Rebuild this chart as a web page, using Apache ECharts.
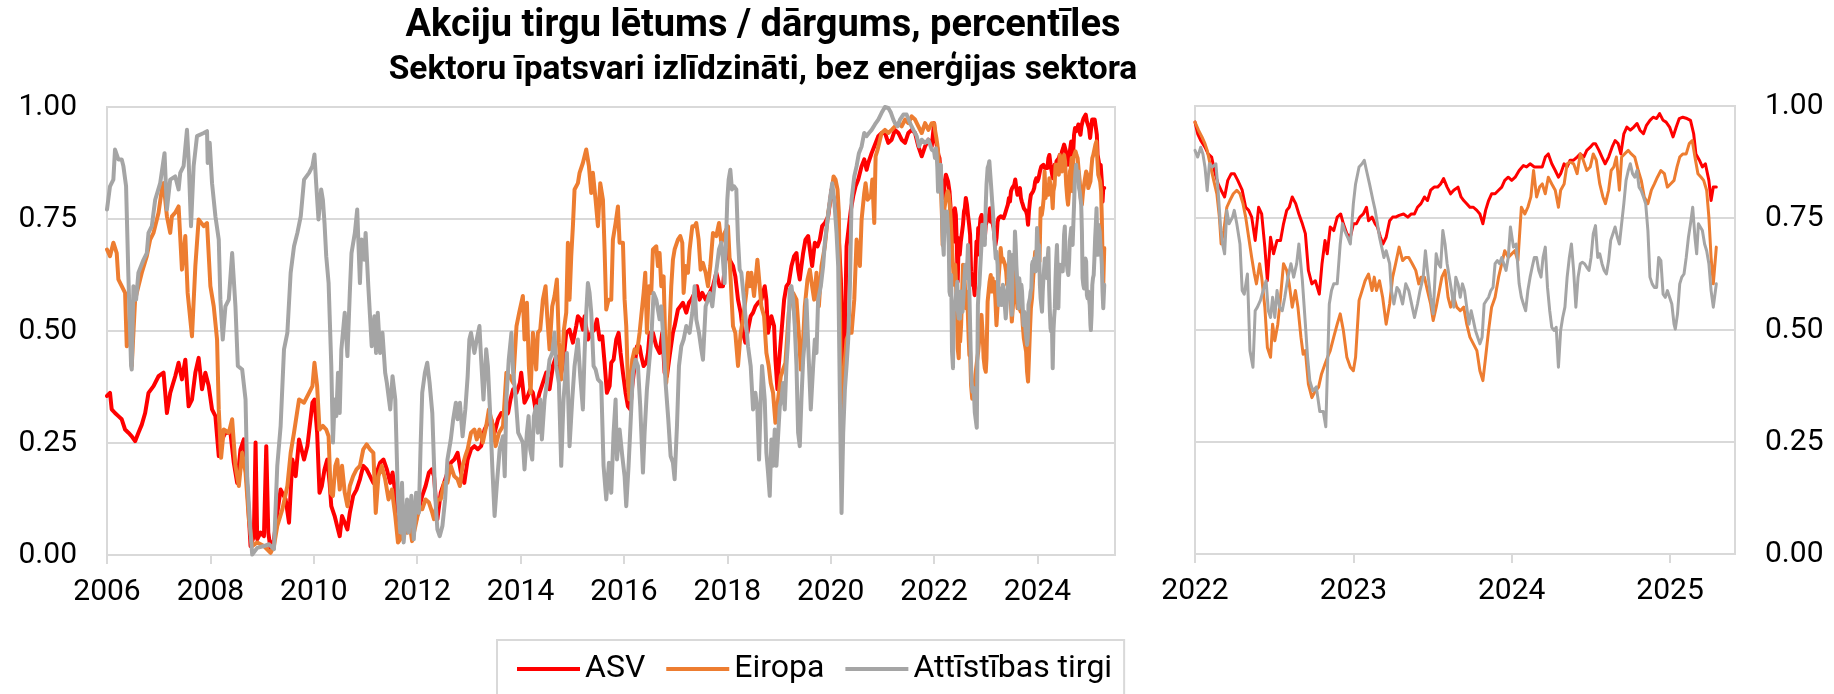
<!DOCTYPE html>
<html><head><meta charset="utf-8">
<script src="https://cdn.jsdelivr.net/npm/echarts@6/dist/echarts.min.js"></script>
<style>html,body{margin:0;padding:0;background:#fff}#c{width:1834px;height:694px}</style>
</head><body><div id="c"></div>
<script>
// ---------- Data: [date as decimal year, percentile] ----------
const seriesNames = ['ASV', 'Eiropa', 'Attīstības tirgi'];
const leftYearTicks = [2006, 2008, 2010, 2012, 2014, 2016, 2018, 2020, 2022, 2024];
const rightYearTicks = [2022, 2023, 2024, 2025];
const yTicks = [0, 0.25, 0.5, 0.75, 1];

// ASV
const asv2006 = [[2006.000,0.355],[2006.058,0.362],[2006.091,0.325],[2006.155,0.317],[2006.220,0.310],[2006.285,0.303],[2006.350,0.280],[2006.414,0.273],[2006.479,0.265],[2006.544,0.254],[2006.608,0.273],[2006.673,0.291],[2006.738,0.317],[2006.803,0.362],[2006.900,0.377],[2006.997,0.399],[2007.094,0.407],[2007.159,0.317],[2007.223,0.362],[2007.320,0.399],[2007.385,0.429],[2007.450,0.392],[2007.515,0.436],[2007.579,0.332],[2007.644,0.347],[2007.709,0.407],[2007.773,0.440],[2007.838,0.370],[2007.903,0.407],[2007.968,0.377],[2008.032,0.325],[2008.097,0.310],[2008.162,0.221],[2008.227,0.258],[2008.291,0.273],[2008.388,0.273],[2008.453,0.206],[2008.518,0.161],[2008.583,0.236],[2008.647,0.258],[2008.712,0.154],[2008.777,0.020],[2008.841,0.042],[2008.874,0.251],[2008.906,0.035],[2008.971,0.050],[2009.036,0.042],[2009.081,0.243],[2009.120,0.050],[2009.165,0.013],[2009.230,0.035],[2009.294,0.094],[2009.359,0.146],[2009.456,0.124],[2009.521,0.072],[2009.586,0.213],[2009.650,0.176],[2009.715,0.258],[2009.812,0.213],[2009.877,0.243],[2009.974,0.340]];
const asv2010 = [[2010.013,0.347],[2010.065,0.273],[2010.111,0.139],[2010.156,0.154],[2010.208,0.191],[2010.261,0.213],[2010.306,0.161],[2010.339,0.109],[2010.404,0.087],[2010.469,0.057],[2010.502,0.042],[2010.547,0.087],[2010.599,0.072],[2010.651,0.057],[2010.697,0.094],[2010.762,0.132],[2010.827,0.146],[2010.893,0.169],[2010.958,0.199],[2011.023,0.191],[2011.088,0.176],[2011.153,0.161],[2011.218,0.184],[2011.283,0.206],[2011.349,0.213],[2011.414,0.191],[2011.479,0.161],[2011.524,0.184],[2011.577,0.139],[2011.642,0.050],[2011.707,0.042],[2011.772,0.057],[2011.837,0.065],[2011.889,0.050],[2011.967,0.072],[2012.033,0.102],[2012.098,0.132],[2012.163,0.154],[2012.228,0.184],[2012.280,0.191],[2012.326,0.176],[2012.391,0.080],[2012.456,0.139],[2012.521,0.161],[2012.586,0.184],[2012.651,0.206],[2012.717,0.213],[2012.782,0.228],[2012.847,0.184],[2012.912,0.161],[2012.977,0.213],[2013.042,0.236],[2013.107,0.243],[2013.173,0.236],[2013.238,0.243],[2013.303,0.280],[2013.368,0.295],[2013.433,0.303],[2013.498,0.273],[2013.564,0.303],[2013.629,0.317],[2013.694,0.310],[2013.759,0.317],[2013.805,0.347],[2013.857,0.370],[2013.922,0.362],[2013.987,0.384]];
const asv2014 = [[2014.013,0.407],[2014.077,0.340],[2014.142,0.355],[2014.187,0.370],[2014.239,0.362],[2014.290,0.325],[2014.368,0.362],[2014.432,0.384],[2014.497,0.407],[2014.561,0.370],[2014.626,0.422],[2014.690,0.444],[2014.755,0.392],[2014.819,0.422],[2014.884,0.496],[2014.948,0.503],[2015.013,0.474],[2015.077,0.511],[2015.110,0.533],[2015.161,0.526],[2015.206,0.503],[2015.239,0.533],[2015.303,0.481],[2015.368,0.496],[2015.432,0.503],[2015.477,0.526],[2015.529,0.481],[2015.581,0.488],[2015.626,0.429],[2015.671,0.362],[2015.723,0.377],[2015.755,0.429],[2015.800,0.436],[2015.852,0.481],[2015.897,0.496],[2015.935,0.451],[2015.981,0.407],[2016.032,0.362],[2016.077,0.332],[2016.123,0.325],[2016.161,0.377],[2016.206,0.422],[2016.252,0.466],[2016.303,0.466],[2016.335,0.444],[2016.381,0.422],[2016.432,0.429],[2016.465,0.451],[2016.497,0.496],[2016.561,0.496],[2016.626,0.466],[2016.690,0.451],[2016.742,0.496],[2016.787,0.407],[2016.832,0.399],[2016.884,0.444],[2016.948,0.496],[2016.981,0.511],[2017.045,0.548],[2017.090,0.555],[2017.142,0.563],[2017.206,0.541],[2017.258,0.563],[2017.303,0.570],[2017.368,0.585],[2017.413,0.600],[2017.465,0.570],[2017.516,0.585],[2017.581,0.570],[2017.658,0.585],[2017.723,0.600],[2017.787,0.630],[2017.852,0.600],[2017.916,0.600]];
const asv2018 = [[2017.981,0.682],[2018.045,0.659],[2018.110,0.645],[2018.155,0.622],[2018.207,0.570],[2018.258,0.541],[2018.304,0.496],[2018.349,0.474],[2018.401,0.503],[2018.452,0.533],[2018.498,0.541],[2018.543,0.555],[2018.595,0.563],[2018.659,0.570],[2018.724,0.600],[2018.756,0.570],[2018.788,0.496],[2018.821,0.518],[2018.853,0.533],[2018.905,0.511],[2018.931,0.436],[2018.969,0.370],[2018.995,0.422],[2019.047,0.496],[2019.099,0.570],[2019.144,0.600],[2019.189,0.607],[2019.241,0.645],[2019.292,0.667],[2019.338,0.674],[2019.370,0.637],[2019.402,0.615],[2019.434,0.645],[2019.467,0.674],[2019.512,0.704],[2019.564,0.712],[2019.615,0.667],[2019.641,0.645],[2019.693,0.697],[2019.745,0.689],[2019.790,0.704],[2019.835,0.734],[2019.887,0.741],[2019.952,0.756],[2020.016,0.816],[2020.068,0.793],[2020.113,0.764],[2020.158,0.704],[2020.197,0.615],[2020.223,0.496],[2020.242,0.347],[2020.275,0.496],[2020.307,0.689],[2020.352,0.734],[2020.391,0.771],[2020.436,0.801],[2020.481,0.823],[2020.533,0.838],[2020.598,0.868],[2020.649,0.883],[2020.695,0.860],[2020.727,0.875],[2020.792,0.897],[2020.843,0.912],[2020.921,0.935],[2020.985,0.942],[2021.050,0.942],[2021.114,0.920],[2021.179,0.927],[2021.244,0.949],[2021.309,0.942],[2021.373,0.927],[2021.438,0.920],[2021.502,0.942],[2021.567,0.949],[2021.632,0.942],[2021.696,0.912],[2021.761,0.890],[2021.826,0.912],[2021.890,0.927],[2021.955,0.912]];
const asv2022 = [[2022.000,0.964],[2022.017,0.938],[2022.036,0.923],[2022.063,0.908],[2022.083,0.893],[2022.105,0.886],[2022.127,0.849],[2022.146,0.826],[2022.165,0.812],[2022.187,0.797],[2022.207,0.834],[2022.229,0.849],[2022.248,0.849],[2022.270,0.834],[2022.298,0.812],[2022.320,0.774],[2022.339,0.767],[2022.358,0.752],[2022.380,0.700],[2022.402,0.774],[2022.421,0.759],[2022.441,0.685],[2022.457,0.610],[2022.477,0.707],[2022.496,0.670],[2022.518,0.700],[2022.540,0.700],[2022.559,0.737],[2022.579,0.767],[2022.595,0.774],[2022.614,0.797],[2022.636,0.782],[2022.656,0.759],[2022.678,0.737],[2022.697,0.715],[2022.716,0.633],[2022.738,0.603],[2022.760,0.610],[2022.785,0.580],[2022.802,0.648],[2022.821,0.700],[2022.835,0.670],[2022.854,0.730],[2022.876,0.722],[2022.898,0.752],[2022.920,0.759],[2022.937,0.737],[2022.959,0.715],[2022.981,0.707],[2023.000,0.737],[2023.019,0.737],[2023.041,0.752],[2023.063,0.759],[2023.083,0.774],[2023.096,0.744],[2023.118,0.752],[2023.138,0.737],[2023.152,0.730],[2023.171,0.707],[2023.187,0.692],[2023.207,0.707],[2023.229,0.744],[2023.248,0.752],[2023.267,0.752],[2023.289,0.756],[2023.317,0.759],[2023.344,0.752],[2023.366,0.759],[2023.386,0.759],[2023.405,0.774],[2023.427,0.782],[2023.449,0.797],[2023.468,0.789],[2023.488,0.812],[2023.510,0.819],[2023.532,0.819],[2023.551,0.826],[2023.570,0.838],[2023.592,0.819],[2023.614,0.804],[2023.634,0.812],[2023.661,0.819],[2023.680,0.797],[2023.697,0.789],[2023.716,0.782],[2023.736,0.774],[2023.758,0.774],[2023.780,0.767],[2023.799,0.759],[2023.818,0.737],[2023.835,0.767],[2023.854,0.789],[2023.873,0.804],[2023.895,0.804],[2023.917,0.812],[2023.937,0.819],[2023.956,0.834],[2023.978,0.841],[2024.000,0.834],[2024.022,0.841],[2024.047,0.856],[2024.074,0.867],[2024.094,0.864],[2024.116,0.871],[2024.143,0.864],[2024.171,0.864],[2024.193,0.864],[2024.212,0.886],[2024.231,0.893],[2024.253,0.871],[2024.275,0.856],[2024.295,0.841],[2024.309,0.849],[2024.331,0.871],[2024.350,0.864],[2024.369,0.879],[2024.391,0.879],[2024.413,0.886],[2024.433,0.893],[2024.455,0.886],[2024.474,0.901],[2024.496,0.908],[2024.515,0.916],[2024.529,0.916],[2024.551,0.901],[2024.570,0.886],[2024.590,0.871],[2024.612,0.886],[2024.634,0.908],[2024.653,0.923],[2024.672,0.916],[2024.689,0.893],[2024.708,0.938],[2024.727,0.953],[2024.749,0.946],[2024.771,0.953],[2024.791,0.961],[2024.810,0.946],[2024.832,0.938],[2024.851,0.957],[2024.873,0.968],[2024.893,0.975],[2024.915,0.972],[2024.934,0.983],[2024.956,0.968],[2024.975,0.964],[2024.997,0.953],[2025.019,0.931],[2025.039,0.953],[2025.058,0.972],[2025.080,0.975],[2025.107,0.972],[2025.129,0.968],[2025.149,0.938],[2025.163,0.893],[2025.185,0.879],[2025.204,0.864],[2025.223,0.871],[2025.245,0.834],[2025.259,0.789],[2025.273,0.819],[2025.292,0.819]];

// Eiropa
const eur2006 = [[2006.000,0.682],[2006.058,0.667],[2006.123,0.697],[2006.188,0.674],[2006.220,0.615],[2006.285,0.600],[2006.350,0.585],[2006.382,0.466],[2006.447,0.503],[2006.479,0.422],[2006.511,0.496],[2006.544,0.570],[2006.608,0.600],[2006.673,0.630],[2006.770,0.667],[2006.835,0.704],[2006.900,0.719],[2006.997,0.764],[2007.061,0.816],[2007.094,0.830],[2007.159,0.756],[2007.223,0.719],[2007.256,0.756],[2007.320,0.764],[2007.385,0.778],[2007.450,0.637],[2007.515,0.712],[2007.560,0.585],[2007.644,0.488],[2007.709,0.645],[2007.773,0.749],[2007.871,0.734],[2007.935,0.741],[2008.000,0.600],[2008.065,0.555],[2008.129,0.481],[2008.162,0.325],[2008.207,0.217],[2008.259,0.280],[2008.356,0.273],[2008.421,0.303],[2008.485,0.199],[2008.550,0.154],[2008.615,0.228],[2008.680,0.184],[2008.744,0.080],[2008.809,0.020],[2008.906,0.028],[2009.036,0.020],[2009.165,0.005],[2009.230,0.020],[2009.294,0.065],[2009.392,0.102],[2009.489,0.154],[2009.553,0.228],[2009.618,0.273],[2009.715,0.347],[2009.812,0.340],[2009.909,0.362],[2009.974,0.377]];
const eur2010 = [[2010.013,0.429],[2010.065,0.377],[2010.111,0.280],[2010.176,0.288],[2010.241,0.280],[2010.287,0.265],[2010.326,0.139],[2010.371,0.132],[2010.417,0.199],[2010.456,0.213],[2010.502,0.146],[2010.547,0.199],[2010.599,0.139],[2010.651,0.109],[2010.697,0.154],[2010.762,0.176],[2010.827,0.191],[2010.893,0.199],[2010.958,0.236],[2011.023,0.247],[2011.088,0.236],[2011.153,0.228],[2011.199,0.094],[2011.251,0.176],[2011.316,0.199],[2011.381,0.169],[2011.446,0.124],[2011.511,0.146],[2011.577,0.087],[2011.629,0.028],[2011.674,0.035],[2011.739,0.065],[2011.805,0.050],[2011.870,0.057],[2011.902,0.031],[2011.967,0.065],[2012.033,0.102],[2012.098,0.102],[2012.163,0.124],[2012.228,0.117],[2012.293,0.094],[2012.326,0.080],[2012.391,0.124],[2012.456,0.124],[2012.521,0.161],[2012.586,0.161],[2012.651,0.199],[2012.717,0.176],[2012.782,0.169],[2012.827,0.154],[2012.879,0.199],[2012.932,0.221],[2012.977,0.236],[2013.042,0.273],[2013.107,0.280],[2013.153,0.258],[2013.205,0.280],[2013.270,0.251],[2013.336,0.288],[2013.388,0.325],[2013.466,0.288],[2013.518,0.243],[2013.583,0.273],[2013.661,0.288],[2013.726,0.407],[2013.792,0.399],[2013.857,0.384],[2013.922,0.511],[2013.974,0.541]];
const eur2014 = [[2014.045,0.578],[2014.077,0.481],[2014.123,0.563],[2014.161,0.422],[2014.194,0.362],[2014.239,0.496],[2014.271,0.459],[2014.303,0.414],[2014.335,0.496],[2014.381,0.503],[2014.432,0.570],[2014.484,0.600],[2014.516,0.533],[2014.561,0.459],[2014.613,0.555],[2014.658,0.578],[2014.703,0.615],[2014.742,0.474],[2014.787,0.392],[2014.839,0.503],[2014.884,0.541],[2014.916,0.697],[2014.948,0.570],[2014.981,0.667],[2015.013,0.734],[2015.045,0.816],[2015.110,0.830],[2015.142,0.853],[2015.206,0.875],[2015.271,0.905],[2015.323,0.868],[2015.368,0.808],[2015.400,0.853],[2015.452,0.793],[2015.497,0.734],[2015.542,0.830],[2015.594,0.793],[2015.626,0.682],[2015.658,0.548],[2015.703,0.570],[2015.755,0.570],[2015.787,0.704],[2015.839,0.741],[2015.884,0.778],[2015.916,0.697],[2015.981,0.697],[2016.013,0.570],[2016.045,0.511],[2016.077,0.384],[2016.110,0.347],[2016.161,0.436],[2016.206,0.459],[2016.252,0.451],[2016.303,0.496],[2016.335,0.533],[2016.381,0.585],[2016.413,0.630],[2016.445,0.496],[2016.484,0.600],[2016.529,0.585],[2016.561,0.682],[2016.626,0.689],[2016.658,0.645],[2016.690,0.674],[2016.723,0.600],[2016.768,0.622],[2016.819,0.384],[2016.871,0.474],[2016.916,0.600],[2016.948,0.659],[2016.981,0.682],[2017.045,0.704],[2017.090,0.712],[2017.129,0.697],[2017.155,0.585],[2017.194,0.645],[2017.239,0.630],[2017.271,0.682],[2017.323,0.734],[2017.368,0.734],[2017.400,0.741],[2017.445,0.704],[2017.484,0.637],[2017.529,0.652],[2017.581,0.630],[2017.626,0.600],[2017.671,0.645],[2017.723,0.719],[2017.787,0.712],[2017.839,0.741],[2017.884,0.697],[2017.948,0.719]];
const eur2018 = [[2018.013,0.734],[2018.065,0.615],[2018.110,0.511],[2018.155,0.496],[2018.207,0.422],[2018.258,0.496],[2018.304,0.526],[2018.368,0.585],[2018.401,0.630],[2018.433,0.600],[2018.465,0.630],[2018.517,0.578],[2018.582,0.659],[2018.627,0.600],[2018.659,0.555],[2018.711,0.533],[2018.756,0.451],[2018.801,0.422],[2018.840,0.384],[2018.885,0.362],[2018.931,0.295],[2018.982,0.347],[2019.034,0.399],[2019.079,0.414],[2019.124,0.429],[2019.163,0.496],[2019.189,0.541],[2019.228,0.570],[2019.273,0.585],[2019.338,0.570],[2019.383,0.496],[2019.422,0.414],[2019.467,0.481],[2019.499,0.555],[2019.551,0.615],[2019.596,0.637],[2019.641,0.600],[2019.680,0.570],[2019.725,0.630],[2019.771,0.555],[2019.822,0.645],[2019.887,0.689],[2019.952,0.764],[2020.016,0.808],[2020.055,0.845],[2020.094,0.838],[2020.132,0.816],[2020.158,0.764],[2020.184,0.496],[2020.210,0.199],[2020.236,0.347],[2020.275,0.436],[2020.307,0.481],[2020.352,0.496],[2020.404,0.496],[2020.456,0.570],[2020.501,0.704],[2020.533,0.667],[2020.565,0.645],[2020.598,0.749],[2020.649,0.808],[2020.675,0.830],[2020.714,0.793],[2020.740,0.793],[2020.779,0.801],[2020.805,0.838],[2020.843,0.741],[2020.869,0.890],[2020.908,0.905],[2020.953,0.927],[2020.985,0.942],[2021.050,0.949],[2021.114,0.942],[2021.179,0.949],[2021.244,0.957],[2021.309,0.964],[2021.373,0.957],[2021.438,0.972],[2021.502,0.964],[2021.567,0.979],[2021.632,0.972],[2021.696,0.957],[2021.761,0.942],[2021.826,0.964],[2021.890,0.949],[2021.955,0.964]];
const eur2022 = [[2022.000,0.964],[2022.022,0.946],[2022.044,0.931],[2022.063,0.916],[2022.077,0.901],[2022.099,0.864],[2022.118,0.834],[2022.138,0.804],[2022.154,0.752],[2022.165,0.692],[2022.182,0.722],[2022.201,0.774],[2022.220,0.789],[2022.242,0.804],[2022.264,0.812],[2022.284,0.804],[2022.303,0.782],[2022.320,0.752],[2022.339,0.707],[2022.358,0.662],[2022.375,0.625],[2022.388,0.603],[2022.408,0.648],[2022.421,0.618],[2022.441,0.551],[2022.457,0.461],[2022.477,0.439],[2022.490,0.513],[2022.504,0.476],[2022.523,0.513],[2022.540,0.573],[2022.559,0.648],[2022.579,0.633],[2022.595,0.603],[2022.614,0.551],[2022.634,0.588],[2022.650,0.551],[2022.669,0.484],[2022.683,0.446],[2022.697,0.454],[2022.716,0.379],[2022.738,0.349],[2022.760,0.364],[2022.780,0.372],[2022.799,0.402],[2022.821,0.424],[2022.837,0.439],[2022.854,0.454],[2022.876,0.484],[2022.898,0.513],[2022.917,0.536],[2022.937,0.499],[2022.959,0.439],[2022.981,0.417],[2023.000,0.409],[2023.014,0.439],[2023.036,0.566],[2023.055,0.588],[2023.074,0.610],[2023.096,0.625],[2023.118,0.588],[2023.132,0.618],[2023.146,0.588],[2023.165,0.610],[2023.185,0.573],[2023.207,0.513],[2023.229,0.558],[2023.248,0.618],[2023.267,0.648],[2023.289,0.685],[2023.311,0.655],[2023.331,0.662],[2023.350,0.662],[2023.372,0.648],[2023.394,0.633],[2023.413,0.603],[2023.427,0.618],[2023.449,0.618],[2023.468,0.588],[2023.488,0.558],[2023.504,0.521],[2023.523,0.551],[2023.543,0.588],[2023.559,0.618],[2023.579,0.633],[2023.598,0.573],[2023.614,0.551],[2023.634,0.573],[2023.653,0.551],[2023.675,0.543],[2023.697,0.551],[2023.716,0.513],[2023.736,0.484],[2023.758,0.469],[2023.780,0.454],[2023.799,0.409],[2023.818,0.387],[2023.835,0.439],[2023.854,0.499],[2023.873,0.551],[2023.895,0.573],[2023.917,0.618],[2023.937,0.648],[2023.956,0.677],[2023.978,0.662],[2024.000,0.670],[2024.019,0.677],[2024.039,0.655],[2024.061,0.774],[2024.083,0.759],[2024.102,0.774],[2024.121,0.797],[2024.138,0.856],[2024.157,0.797],[2024.176,0.819],[2024.193,0.826],[2024.212,0.804],[2024.231,0.841],[2024.253,0.826],[2024.275,0.812],[2024.295,0.774],[2024.309,0.812],[2024.331,0.826],[2024.350,0.871],[2024.369,0.875],[2024.391,0.871],[2024.413,0.849],[2024.433,0.893],[2024.452,0.879],[2024.474,0.856],[2024.496,0.864],[2024.515,0.893],[2024.534,0.879],[2024.556,0.826],[2024.576,0.797],[2024.592,0.782],[2024.612,0.812],[2024.628,0.856],[2024.645,0.864],[2024.661,0.886],[2024.680,0.812],[2024.694,0.886],[2024.713,0.893],[2024.736,0.901],[2024.755,0.893],[2024.777,0.886],[2024.799,0.856],[2024.818,0.834],[2024.837,0.797],[2024.860,0.782],[2024.882,0.812],[2024.901,0.826],[2024.920,0.841],[2024.942,0.856],[2024.964,0.849],[2024.983,0.819],[2025.003,0.826],[2025.025,0.834],[2025.044,0.864],[2025.061,0.886],[2025.080,0.893],[2025.102,0.893],[2025.121,0.916],[2025.140,0.923],[2025.157,0.886],[2025.176,0.849],[2025.196,0.841],[2025.212,0.834],[2025.231,0.812],[2025.245,0.752],[2025.259,0.662],[2025.273,0.603],[2025.292,0.685]];

// Attīstības tirgi
const em2006 = [[2006.000,0.771],[2006.058,0.823],[2006.123,0.838],[2006.155,0.905],[2006.220,0.883],[2006.285,0.883],[2006.317,0.868],[2006.369,0.823],[2006.414,0.622],[2006.466,0.422],[2006.479,0.414],[2006.511,0.600],[2006.563,0.570],[2006.608,0.630],[2006.706,0.659],[2006.770,0.674],[2006.803,0.719],[2006.867,0.734],[2006.932,0.793],[2007.029,0.830],[2007.113,0.897],[2007.159,0.771],[2007.223,0.838],[2007.320,0.845],[2007.385,0.816],[2007.417,0.853],[2007.482,0.868],[2007.547,0.949],[2007.579,0.883],[2007.625,0.734],[2007.676,0.868],[2007.741,0.935],[2007.871,0.942],[2007.935,0.946],[2007.948,0.875],[2007.987,0.920],[2008.032,0.830],[2008.097,0.756],[2008.162,0.704],[2008.194,0.570],[2008.239,0.481],[2008.291,0.555],[2008.356,0.570],[2008.421,0.674],[2008.485,0.555],[2008.531,0.422],[2008.615,0.414],[2008.680,0.347],[2008.712,0.176],[2008.777,0.050],[2008.809,0.001],[2008.906,0.016],[2009.036,0.020],[2009.133,0.024],[2009.230,0.013],[2009.294,0.199],[2009.359,0.288],[2009.424,0.459],[2009.489,0.496],[2009.553,0.630],[2009.618,0.689],[2009.683,0.719],[2009.748,0.756],[2009.812,0.838],[2009.909,0.853],[2009.974,0.868]];
const em2010 = [[2010.013,0.894],[2010.046,0.830],[2010.091,0.749],[2010.143,0.816],[2010.176,0.793],[2010.208,0.741],[2010.241,0.667],[2010.287,0.607],[2010.339,0.422],[2010.371,0.251],[2010.404,0.347],[2010.436,0.310],[2010.469,0.407],[2010.502,0.317],[2010.534,0.459],[2010.599,0.541],[2010.651,0.444],[2010.697,0.585],[2010.730,0.674],[2010.795,0.719],[2010.840,0.771],[2010.893,0.607],[2010.925,0.704],[2010.977,0.659],[2011.003,0.719],[2011.055,0.600],[2011.088,0.533],[2011.121,0.466],[2011.173,0.533],[2011.205,0.451],[2011.238,0.541],[2011.283,0.451],[2011.329,0.496],[2011.381,0.407],[2011.414,0.384],[2011.479,0.325],[2011.524,0.399],[2011.577,0.347],[2011.629,0.124],[2011.674,0.050],[2011.707,0.161],[2011.739,0.028],[2011.805,0.124],[2011.837,0.050],[2011.889,0.132],[2011.935,0.035],[2011.980,0.139],[2012.033,0.094],[2012.065,0.236],[2012.098,0.362],[2012.150,0.407],[2012.195,0.429],[2012.241,0.384],[2012.293,0.317],[2012.345,0.139],[2012.391,0.057],[2012.436,0.042],[2012.489,0.065],[2012.541,0.124],[2012.586,0.213],[2012.651,0.258],[2012.697,0.303],[2012.749,0.340],[2012.782,0.303],[2012.827,0.340],[2012.879,0.265],[2012.932,0.325],[2012.977,0.399],[2013.010,0.481],[2013.042,0.496],[2013.107,0.451],[2013.153,0.481],[2013.205,0.511],[2013.238,0.436],[2013.283,0.347],[2013.336,0.459],[2013.368,0.422],[2013.414,0.310],[2013.453,0.199],[2013.498,0.087],[2013.544,0.161],[2013.596,0.236],[2013.661,0.265],[2013.694,0.176],[2013.726,0.347],[2013.772,0.436],[2013.824,0.496],[2013.857,0.407],[2013.909,0.347],[2013.954,0.273]];
const em2014 = [[2014.045,0.251],[2014.077,0.191],[2014.123,0.273],[2014.155,0.310],[2014.187,0.236],[2014.226,0.213],[2014.258,0.310],[2014.303,0.332],[2014.335,0.273],[2014.381,0.347],[2014.413,0.258],[2014.465,0.347],[2014.510,0.384],[2014.561,0.436],[2014.613,0.451],[2014.658,0.496],[2014.690,0.422],[2014.742,0.384],[2014.787,0.199],[2014.832,0.347],[2014.871,0.407],[2014.897,0.451],[2014.948,0.243],[2015.000,0.347],[2015.045,0.422],[2015.110,0.481],[2015.155,0.399],[2015.206,0.325],[2015.239,0.451],[2015.271,0.541],[2015.303,0.607],[2015.335,0.585],[2015.368,0.541],[2015.413,0.422],[2015.452,0.414],[2015.497,0.392],[2015.561,0.384],[2015.606,0.199],[2015.658,0.124],[2015.710,0.206],[2015.755,0.139],[2015.800,0.273],[2015.839,0.347],[2015.865,0.213],[2015.916,0.280],[2015.968,0.221],[2016.013,0.176],[2016.045,0.109],[2016.090,0.199],[2016.123,0.280],[2016.174,0.407],[2016.226,0.436],[2016.271,0.422],[2016.316,0.332],[2016.368,0.184],[2016.400,0.273],[2016.445,0.370],[2016.484,0.422],[2016.529,0.481],[2016.574,0.585],[2016.626,0.570],[2016.690,0.526],[2016.723,0.555],[2016.755,0.496],[2016.806,0.384],[2016.858,0.303],[2016.903,0.221],[2016.948,0.206],[2016.981,0.169],[2017.026,0.288],[2017.065,0.422],[2017.110,0.466],[2017.155,0.481],[2017.206,0.511],[2017.271,0.496],[2017.323,0.541],[2017.368,0.600],[2017.400,0.526],[2017.452,0.496],[2017.497,0.459],[2017.529,0.436],[2017.581,0.555],[2017.626,0.570],[2017.658,0.585],[2017.710,0.555],[2017.755,0.607],[2017.800,0.645],[2017.839,0.682],[2017.884,0.697],[2017.916,0.659],[2017.948,0.607]];
const em2018 = [[2018.000,0.793],[2018.026,0.838],[2018.058,0.860],[2018.090,0.816],[2018.129,0.823],[2018.174,0.816],[2018.207,0.704],[2018.239,0.637],[2018.271,0.630],[2018.323,0.570],[2018.368,0.511],[2018.401,0.466],[2018.452,0.422],[2018.498,0.325],[2018.543,0.362],[2018.582,0.325],[2018.614,0.213],[2018.646,0.347],[2018.672,0.422],[2018.724,0.347],[2018.756,0.228],[2018.788,0.184],[2018.821,0.132],[2018.853,0.258],[2018.885,0.199],[2018.918,0.280],[2018.950,0.199],[2018.982,0.199],[2019.015,0.332],[2019.047,0.347],[2019.079,0.384],[2019.111,0.325],[2019.144,0.422],[2019.176,0.481],[2019.208,0.593],[2019.241,0.600],[2019.273,0.570],[2019.305,0.511],[2019.338,0.422],[2019.370,0.273],[2019.402,0.243],[2019.434,0.347],[2019.467,0.436],[2019.499,0.481],[2019.531,0.570],[2019.576,0.436],[2019.615,0.325],[2019.661,0.422],[2019.693,0.481],[2019.725,0.451],[2019.757,0.570],[2019.809,0.600],[2019.854,0.645],[2019.887,0.697],[2019.939,0.749],[2019.984,0.793],[2020.029,0.830],[2020.068,0.793],[2020.113,0.719],[2020.145,0.645],[2020.178,0.347],[2020.210,0.094],[2020.242,0.273],[2020.275,0.370],[2020.307,0.422],[2020.339,0.481],[2020.372,0.600],[2020.404,0.793],[2020.456,0.845],[2020.501,0.868],[2020.546,0.897],[2020.598,0.912],[2020.649,0.942],[2020.695,0.935],[2020.740,0.942],[2020.792,0.949],[2020.856,0.961],[2020.921,0.972],[2020.985,0.987],[2021.050,1.000],[2021.114,0.998],[2021.166,0.987],[2021.212,0.972],[2021.244,0.964],[2021.296,0.957],[2021.341,0.972],[2021.406,0.983],[2021.470,0.983],[2021.535,0.964],[2021.599,0.949],[2021.664,0.935],[2021.709,0.912],[2021.761,0.927],[2021.826,0.920],[2021.890,0.927],[2021.955,0.905]];
const em2022 = [[2022.000,0.901],[2022.017,0.886],[2022.036,0.908],[2022.050,0.893],[2022.063,0.864],[2022.077,0.811],[2022.091,0.871],[2022.110,0.864],[2022.132,0.871],[2022.146,0.811],[2022.160,0.737],[2022.174,0.692],[2022.187,0.670],[2022.201,0.767],[2022.215,0.737],[2022.237,0.752],[2022.248,0.767],[2022.264,0.737],[2022.284,0.692],[2022.298,0.588],[2022.311,0.580],[2022.331,0.625],[2022.347,0.454],[2022.366,0.417],[2022.380,0.543],[2022.394,0.551],[2022.413,0.566],[2022.430,0.588],[2022.449,0.610],[2022.463,0.543],[2022.477,0.528],[2022.490,0.573],[2022.504,0.528],[2022.518,0.588],[2022.534,0.551],[2022.551,0.543],[2022.567,0.573],[2022.587,0.618],[2022.606,0.648],[2022.623,0.618],[2022.642,0.648],[2022.656,0.692],[2022.678,0.610],[2022.697,0.513],[2022.711,0.439],[2022.725,0.387],[2022.744,0.364],[2022.766,0.373],[2022.788,0.318],[2022.810,0.318],[2022.826,0.284],[2022.848,0.558],[2022.862,0.588],[2022.876,0.603],[2022.898,0.603],[2022.917,0.692],[2022.931,0.737],[2022.945,0.722],[2022.964,0.707],[2022.981,0.692],[2023.000,0.782],[2023.014,0.826],[2023.036,0.864],[2023.055,0.871],[2023.069,0.879],[2023.083,0.856],[2023.102,0.826],[2023.124,0.789],[2023.138,0.767],[2023.152,0.737],[2023.165,0.707],[2023.179,0.685],[2023.193,0.662],[2023.207,0.677],[2023.229,0.648],[2023.240,0.588],[2023.256,0.558],[2023.275,0.595],[2023.289,0.588],[2023.311,0.558],[2023.331,0.603],[2023.350,0.588],[2023.372,0.551],[2023.386,0.528],[2023.405,0.558],[2023.421,0.588],[2023.441,0.618],[2023.455,0.677],[2023.468,0.633],[2023.488,0.573],[2023.504,0.536],[2023.523,0.670],[2023.537,0.648],[2023.551,0.640],[2023.565,0.722],[2023.579,0.692],[2023.592,0.648],[2023.606,0.618],[2023.620,0.588],[2023.634,0.551],[2023.647,0.618],[2023.661,0.603],[2023.675,0.573],[2023.689,0.603],[2023.702,0.588],[2023.716,0.551],[2023.730,0.513],[2023.744,0.543],[2023.758,0.521],[2023.771,0.499],[2023.785,0.484],[2023.799,0.469],[2023.813,0.484],[2023.826,0.558],[2023.840,0.566],[2023.854,0.573],[2023.868,0.588],[2023.882,0.595],[2023.895,0.648],[2023.909,0.655],[2023.923,0.648],[2023.937,0.662],[2023.950,0.648],[2023.964,0.633],[2023.978,0.662],[2023.992,0.730],[2024.011,0.685],[2024.028,0.692],[2024.047,0.603],[2024.061,0.573],[2024.074,0.558],[2024.088,0.543],[2024.102,0.588],[2024.116,0.618],[2024.129,0.640],[2024.143,0.662],[2024.157,0.662],[2024.171,0.633],[2024.185,0.618],[2024.198,0.662],[2024.212,0.685],[2024.226,0.595],[2024.240,0.543],[2024.253,0.506],[2024.267,0.499],[2024.281,0.506],[2024.295,0.417],[2024.309,0.499],[2024.322,0.528],[2024.336,0.551],[2024.350,0.618],[2024.364,0.662],[2024.377,0.692],[2024.391,0.633],[2024.405,0.551],[2024.419,0.618],[2024.433,0.648],[2024.446,0.651],[2024.460,0.648],[2024.474,0.640],[2024.488,0.633],[2024.501,0.662],[2024.515,0.715],[2024.529,0.733],[2024.543,0.662],[2024.556,0.670],[2024.570,0.648],[2024.584,0.633],[2024.598,0.625],[2024.612,0.655],[2024.625,0.700],[2024.639,0.715],[2024.653,0.730],[2024.667,0.707],[2024.680,0.692],[2024.694,0.737],[2024.708,0.782],[2024.722,0.834],[2024.736,0.856],[2024.749,0.871],[2024.763,0.849],[2024.777,0.841],[2024.791,0.856],[2024.804,0.819],[2024.818,0.811],[2024.832,0.797],[2024.846,0.782],[2024.860,0.722],[2024.873,0.618],[2024.887,0.603],[2024.901,0.595],[2024.915,0.595],[2024.928,0.662],[2024.942,0.655],[2024.956,0.580],[2024.970,0.573],[2024.983,0.588],[2024.997,0.573],[2025.011,0.558],[2025.025,0.513],[2025.033,0.502],[2025.047,0.536],[2025.061,0.603],[2025.074,0.618],[2025.088,0.625],[2025.102,0.662],[2025.116,0.707],[2025.129,0.737],[2025.143,0.774],[2025.157,0.707],[2025.168,0.670],[2025.179,0.737],[2025.190,0.737],[2025.204,0.722],[2025.218,0.692],[2025.231,0.677],[2025.245,0.648],[2025.259,0.588],[2025.273,0.551],[2025.292,0.603]];

// ---------- Build ----------
const colors = ['#FF0000', '#ED7D31', '#A5A5A5'];
const fullHistory = [
  asv2006.concat(asv2010, asv2014, asv2018, asv2022),
  eur2006.concat(eur2010, eur2014, eur2018, eur2022),
  em2006.concat(em2010, em2014, em2018, em2022)
];
const recent = [asv2022, eur2022, em2022];

const FONT = 'Roboto';
const gridLine = '#D9D9D9';
function xAxisCfg(idx, min, max, interval, ticks) {
  return {
    gridIndex: idx, type: 'value', min: min, max: max, interval: interval,
    axisLine: { show: true, onZero: false, lineStyle: { color: gridLine, width: 2 } },
    axisTick: { show: true, length: 9, customValues: ticks, lineStyle: { color: gridLine, width: 2 } },
    axisLabel: { customValues: ticks, formatter: v => String(Math.round(v)), fontSize: 30, color: '#000', margin: 22, fontFamily: FONT },
    splitLine: { show: false }
  };
}
function yAxisCfg(idx, pos) {
  return {
    gridIndex: idx, type: 'value', min: 0, max: 1, interval: 0.25, position: pos,
    axisLine: { show: false }, axisTick: { show: false },
    axisLabel: { customValues: yTicks, formatter: v => v.toFixed(2), fontSize: 30, color: '#000', margin: 30, fontFamily: FONT },
    splitLine: { show: true, lineStyle: { color: gridLine, width: 2 } }
  };
}

const series = [];
[0, 1].forEach(g => {
  seriesNames.forEach((name, s) => {
    series.push({
      type: 'line', name: name, xAxisIndex: g, yAxisIndex: g,
      data: g === 0 ? fullHistory[s] : recent[s],
      showSymbol: false, symbol: 'none', silent: true,
      lineStyle: { width: g === 0 ? 4 : 3, color: colors[s], join: 'round', cap: 'round' },
      itemStyle: { color: colors[s] },
      emphasis: { disabled: true }
    });
  });
});

const chart = echarts.init(document.getElementById('c'), null, { renderer: 'canvas' });
chart.setOption({
  animation: false,
  backgroundColor: '#ffffff',
  textStyle: { fontFamily: FONT },
  graphic: [
    { type: 'text', x: 763, y: 26.5, style: { text: 'Akciju tirgu lētums / dārgums, percentīles', font: 'bold 38px Roboto', fill: '#000', align: 'center', verticalAlign: 'middle' } },
    { type: 'text', x: 763, y: 71, style: { text: 'Sektoru īpatsvari izlīdzināti, bez enerģijas sektora', font: 'bold 33.5px Roboto', fill: '#000', align: 'center', verticalAlign: 'middle' } }
  ],
  grid: [
    { left: 107, top: 107, width: 1008, height: 448, show: true, borderColor: gridLine, borderWidth: 2, backgroundColor: 'transparent' },
    { left: 1195, top: 106, width: 540, height: 448, show: true, borderColor: gridLine, borderWidth: 2, backgroundColor: 'transparent' }
  ],
  xAxis: [xAxisCfg(0, 2006, 2025.5, 2, leftYearTicks), xAxisCfg(1, 2022, 2025.41, 1, rightYearTicks)],
  yAxis: [yAxisCfg(0, 'left'), yAxisCfg(1, 'right')],
  legend: {
    left: 497, top: 640, orient: 'horizontal', icon: 'rect', itemWidth: 63, itemHeight: 4, itemGap: 21,
    padding: [13, 12, 20, 20], borderColor: gridLine, borderWidth: 2,
    textStyle: { fontSize: 32, color: '#000', lineHeight: 32, fontFamily: FONT },
    data: seriesNames, selectedMode: false
  },
  series: series
});
</script></body></html>
